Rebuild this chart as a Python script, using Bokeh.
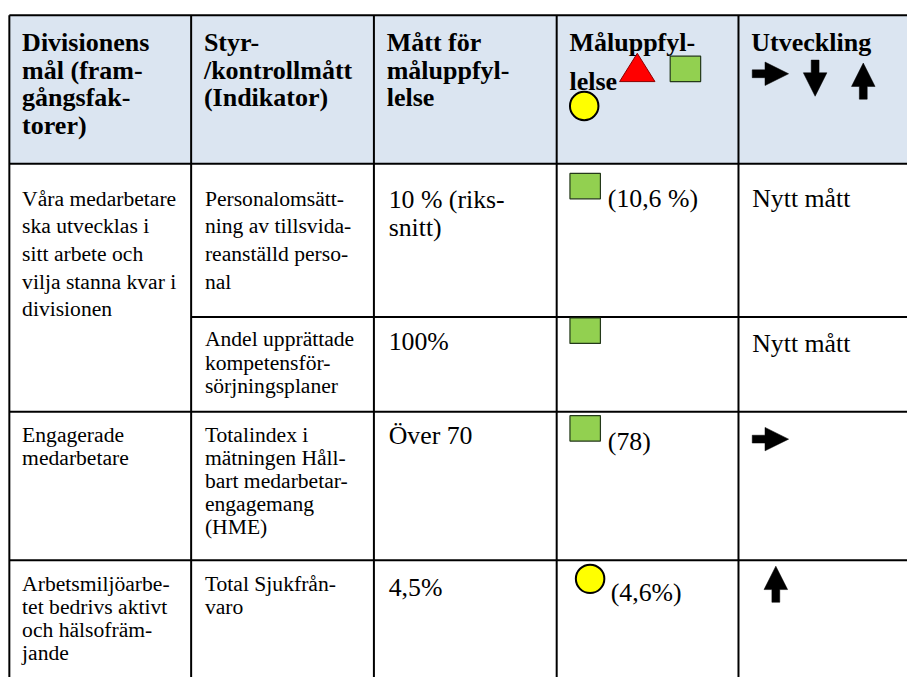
from bokeh.plotting import figure
from bokeh.models import Range1d, ColumnDataSource
from bokeh.core.properties import value
from bokeh.embed import file_html
from bokeh.resources import INLINE

# ---------------- data (table content) ----------------
header_lines = [
    ["Divisionens", "mål (fram-", "gångsfak-", "torer)"],
    ["Styr-", "/kontrollmått", "(Indikator)"],
    ["Mått för", "måluppfyl-", "lelse"],
    ["Måluppfyl-", "lelse"],
    ["Utveckling"],
]
goal_lines = [
    ["Våra medarbetare", "ska utvecklas i", "sitt arbete och", "vilja stanna kvar i", "divisionen"],
    ["Engagerade", "medarbetare"],
    ["Arbetsmiljöarbe-", "tet bedrivs aktivt", "och hälsofräm-", "jande"],
]
goal_first_row = [0, 2, 3]
indicator_lines = [
    ["Personalomsätt-", "ning av tillsvida-", "reanställd perso-", "nal"],
    ["Andel upprättade", "kompetensför-", "sörjningsplaner"],
    ["Totalindex i", "mätningen Håll-", "bart medarbetar-", "engagemang", "(HME)"],
    ["Total Sjukfrån-", "varo"],
]
target_lines = [["10 % (riks-", "snitt)"], ["100%"], ["Över 70"], ["4,5%"]]
status = ["green", "green", "green", "yellow"]
status_labels = ["(10,6 %)", "", "(78)", "(4,6%)"]
trend = ["Nytt mått", "Nytt mått", "right", "up"]
legend_trend = ["right", "down", "up"]

# ---------------- layout (in reference-picture units 923x693) ----------------
W, H = 907, 677
REF_W, REF_H = 923, 693
SCALE = 0.98
COL_X = [9, 194, 380, 566, 751, 940]
ROW_Y = [167, 324, 421, 573, 720]
TOP = 15
PAD = 13
FIRST_BASE = [203, 347, 445, 597]
PITCH = [28.3, 23.6, 23.4, 23.5]
BIG_BASE = [204, 349, 445, 601]
BIG_PITCH = [28.3, 27.6, 27.6, 27.6]
INLINE_BASE = [203, 351, 451, 606]
HEAD_BASE = 43
HEAD_PITCH = 28.3

FONT = "'Liberation Serif', 'Times New Roman', Times, serif"
GREEN, YELLOW, RED = "#92D050", "#FFFF00", "#FF0000"
HEAD_BG = "#DBE5F1"

p = figure(width=W, height=H, x_range=Range1d(0, REF_W), y_range=Range1d(REF_H, 0),
           output_backend="svg", toolbar_location=None, min_border=0,
           x_axis_location=None, y_axis_location=None)
p.grid.visible = False
p.outline_line_color = None
p.background_fill_color = "white"
p.border_fill_color = "white"

# header background
p.quad(left=[COL_X[0]], right=[COL_X[-1]], top=[TOP], bottom=[ROW_Y[0]],
       fill_color=HEAD_BG, line_color=None)

# grid lines
x0s, y0s, x1s, y1s = [], [], [], []
for x in COL_X[:-1]:
    x0s.append(x); x1s.append(x); y0s.append(TOP); y1s.append(ROW_Y[-1])
for y in [TOP, ROW_Y[0], ROW_Y[2], ROW_Y[3]]:
    x0s.append(COL_X[0]); x1s.append(COL_X[-1]); y0s.append(y); y1s.append(y)
x0s.append(COL_X[1]); x1s.append(COL_X[-1]); y0s.append(ROW_Y[1]); y1s.append(ROW_Y[1])
p.segment(x0=x0s, y0=y0s, x1=x1s, y1=y1s, line_color="black", line_width=2)

# ---------------- texts ----------------
def add(store, x, y, t):
    store["x"].append(x); store["y"].append(y); store["t"].append(t)

head = dict(x=[], y=[], t=[])
small = dict(x=[], y=[], t=[])
big = dict(x=[], y=[], t=[])

for c, lines in enumerate(header_lines):
    for i, t in enumerate(lines):
        y = HEAD_BASE + i * HEAD_PITCH
        if c == 3 and i == 1:
            y = HEAD_BASE + 40
        add(head, COL_X[c] + PAD, y, t)

for g, lines in enumerate(goal_lines):
    r = goal_first_row[g]
    for i, t in enumerate(lines):
        add(small, COL_X[0] + PAD, FIRST_BASE[r] + i * PITCH[r], t)

for r, lines in enumerate(indicator_lines):
    for i, t in enumerate(lines):
        add(small, COL_X[1] + PAD + 1, FIRST_BASE[r] + i * PITCH[r], t)

for r, lines in enumerate(target_lines):
    for i, t in enumerate(lines):
        add(big, COL_X[2] + PAD + 2, BIG_BASE[r] + i * BIG_PITCH[r], t)

# status symbols
sq = dict(x=[], y=[])
circ = dict(x=[], y=[])
for r, s in enumerate(status):
    if s == "green":
        sq["x"].append(COL_X[3] + 29); sq["y"].append(INLINE_BASE[r] - 13)
        lab_x = COL_X[3] + 52
    else:
        circ["x"].append(COL_X[3] + 34); circ["y"].append(INLINE_BASE[r] - 14)
        lab_x = COL_X[3] + 55
    if status_labels[r]:
        add(big, lab_x, INLINE_BASE[r], status_labels[r])

# header legend symbols
sq["x"].append(COL_X[3] + 131); sq["y"].append(HEAD_BASE + 40 - 13)
circ["x"].append(COL_X[3] + 28); circ["y"].append(HEAD_BASE + 65)

p.rect(x=sq["x"], y=sq["y"], width=31, height=26, fill_color=GREEN,
       line_color="#24391A", line_width=1.2)
p.ellipse(x=circ["x"], y=circ["y"], width=29, height=29, fill_color=YELLOW,
          line_color="black", line_width=2)

# red triangle in header
tri_l = COL_X[3] + 64
tri_b = HEAD_BASE + 40
p.patch(x=[tri_l, tri_l + 36, tri_l + 18], y=[tri_b, tri_b, tri_b - 29],
        fill_color=RED, line_color="#8B0000", line_width=1)

# trend column
def arrow(direction, ax, ay, L=37, hw=24, hl=24, sw=8):
    """ax, ay: tail-center position; returns polygon."""
    s, h = sw / 2, hw / 2
    pts = [(0, -s), (L - hl, -s), (L - hl, -h), (L, 0), (L - hl, h), (L - hl, s), (0, s)]
    if direction == "right":
        return [ax + u for u, v in pts], [ay + v for u, v in pts]
    if direction == "down":
        return [ax + v for u, v in pts], [ay + u for u, v in pts]
    return [ax + v for u, v in pts], [ay - u for u, v in pts]

axs, ays = [], []
for r, t in enumerate(trend):
    if t == "right":
        xs, ys = arrow("right", COL_X[4] + PAD + 1, INLINE_BASE[r] - 2)
        axs.append(xs); ays.append(ys)
    elif t == "up":
        xs, ys = arrow("up", COL_X[4] + 38, INLINE_BASE[r] + 10)
        axs.append(xs); ays.append(ys)
    elif t == "down":
        xs, ys = arrow("down", COL_X[4] + 38, INLINE_BASE[r] - 30)
        axs.append(xs); ays.append(ys)
    else:
        add(big, COL_X[4] + PAD + 1, INLINE_BASE[r], t)

legend_pos = {"right": (COL_X[4] + PAD + 1, 75), "down": (COL_X[4] + 78, 61), "up": (COL_X[4] + 127, 101)}
for d in legend_trend:
    ax, ay = legend_pos[d]
    xs, ys = arrow(d, ax, ay)
    axs.append(xs); ays.append(ys)
p.patches(xs=axs, ys=ays, fill_color="black", line_color="black", line_width=0.5)

for store, size, style in [(head, 26.5, "bold"), (small, 22, "normal"), (big, 26.3, "normal")]:
    src = ColumnDataSource(store)
    p.text(x="x", y="y", text="t", source=src, text_font=value(FONT),
           text_font_size="%.1fpx" % (size * SCALE), text_font_style=style, text_color="black",
           text_baseline="alphabetic", text_align="left")

open("out.html", "w").write(file_html(p, INLINE))
